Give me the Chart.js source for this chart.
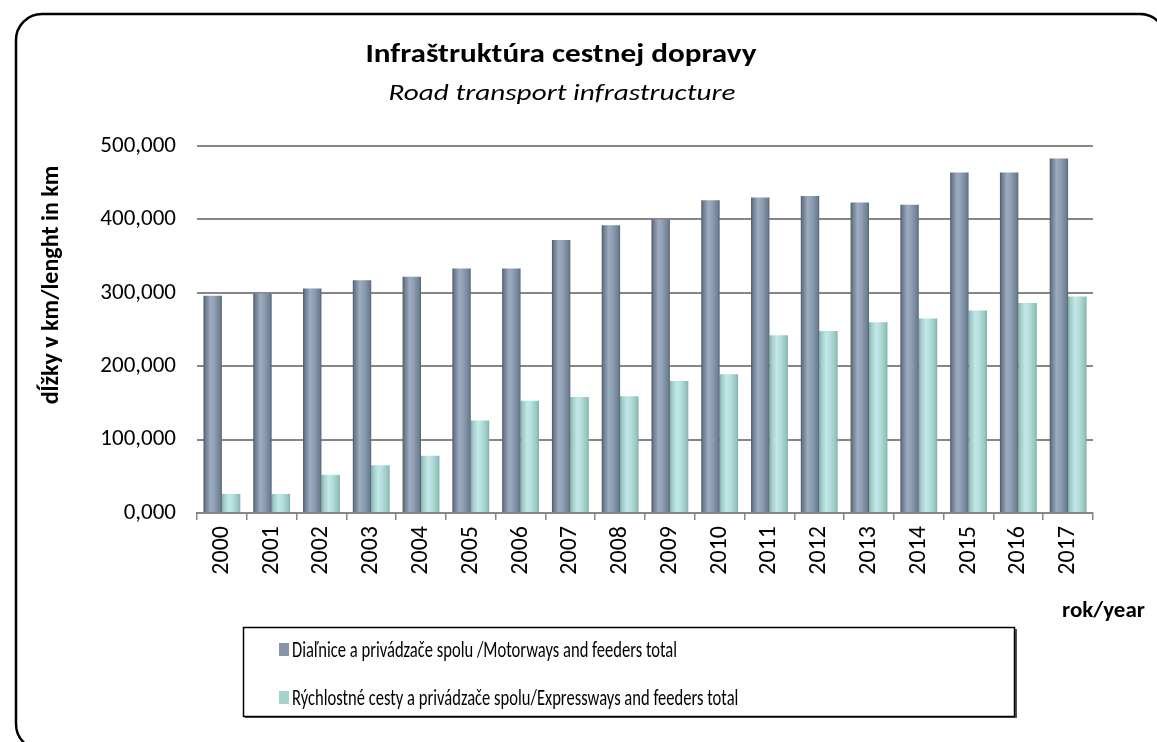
<!DOCTYPE html>
<html>
<head>
<meta charset="utf-8">
<script src="https://cdn.jsdelivr.net/npm/chart.js@4.4.1/dist/chart.umd.min.js"></script>
<style>
  html, body { margin: 0; padding: 0; background: #fff; }
  #wrap { width: 1157px; height: 742px; }
</style>
</head>
<body>
<div id="wrap"><canvas id="chart" width="1157" height="742"></canvas></div>
<script>
// Data
const years = ['2000', '2001', '2002', '2003', '2004', '2005', '2006', '2007', '2008',
               '2009', '2010', '2011', '2012', '2013', '2014', '2015', '2016', '2017'];
const motorways = [296, 299, 306, 317, 322, 333, 333, 372, 392, 400, 426, 430, 432, 423, 420, 464, 464, 483];
const expressways = [26, 26, 52, 65, 78, 126, 153, 158, 159, 180, 189, 242, 248, 260, 265, 276, 286, 295];
const seriesLabels = [
    'Diaľnice a privádzače spolu /Motorways and feeders total',
    'Rýchlostné cesty a privádzače spolu/Expressways and feeders total'
];
const yMax = 500;
const yStep = 100;

const FONT = 'Carlito, Calibri, Lato, sans-serif';
const legendColors = ['#8795a8', '#a6d3cf'];

// bar "cylinder" shading, from left edge to right edge
const barStops = [
    [[0, '#4e5968'], [0.1, '#6b798b'], [0.38, '#9dacc1'], [0.6, '#8e9eb3'], [0.9, '#6f7f94'], [1, '#566374']],
    [[0, '#7ea8a3'], [0.1, '#9ccac6'], [0.38, '#c2e8e7'], [0.6, '#b4dedb'], [0.9, '#94c4bf'], [1, '#7faba6']]
];

// Paint each bar with a horizontal gradient using its resolved position
const shadePlugin = {
    id: 'shade',
    beforeDatasetsDraw(chart) {
        const ctx = chart.ctx;
        chart.data.datasets.forEach((ds, di) => {
            chart.getDatasetMeta(di).data.forEach(el => {
                const left = el.x - el.width / 2;
                const g = ctx.createLinearGradient(left, 0, left + el.width, 0);
                barStops[di].forEach(s => g.addColorStop(s[0], s[1]));
                el.options = Object.assign({}, el.options, { backgroundColor: g });
            });
        });
    }
};

// text with a horizontal stretch factor (the source image is not square-pixeled)
function stretchText(ctx, text, x, y, sx, align) {
    ctx.save();
    ctx.translate(x, y);
    ctx.scale(sx, 1);
    ctx.textAlign = align;
    ctx.fillText(text, 0, 0);
    ctx.restore();
}

// Outer frame, titles, axis titles and boxed legend
const decorPlugin = {
    id: 'decor',
    afterDraw(chart) {
        const ctx = chart.ctx;
        ctx.save();

        ctx.strokeStyle = '#000';
        ctx.lineWidth = 2.5;
        ctx.beginPath();
        ctx.roundRect(16, 14, 1150, 736, 26);
        ctx.stroke();

        ctx.fillStyle = '#000';
        ctx.textBaseline = 'alphabetic';
        ctx.font = 'bold 26px ' + FONT;
        stretchText(ctx, 'Infraštruktúra cestnej dopravy', 561, 62, 1.2, 'center');
        ctx.font = 'italic 23px ' + FONT;
        stretchText(ctx, 'Road transport infrastructure', 562, 100, 1.27, 'center');

        ctx.font = 'bold 23px ' + FONT;
        ctx.textAlign = 'left';
        ctx.fillText('rok/year', 1062, 617);

        // y axis title, rotated
        ctx.save();
        ctx.translate(58, 285);
        ctx.rotate(-Math.PI / 2);
        ctx.font = 'bold 24px ' + FONT;
        ctx.textAlign = 'center';
        ctx.fillText('dĺžky v km/lenght in km', 0, 0);
        ctx.restore();

        // legend box
        ctx.fillStyle = '#555';
        ctx.fillRect(245, 716, 771, 2);
        ctx.fillRect(1015, 629, 2, 89);
        ctx.strokeStyle = '#000';
        ctx.lineWidth = 1.5;
        ctx.strokeRect(243.5, 627.5, 771, 89);

        ctx.font = '23px ' + FONT;
        const rows = [657, 705];
        chart.data.datasets.forEach((ds, i) => {
            ctx.fillStyle = legendColors[i];
            ctx.fillRect(279, rows[i] - 14, 10, 13);
            ctx.fillStyle = '#000';
            stretchText(ctx, ds.label, 292, rows[i], 0.72, 'left');
        });
        ctx.restore();
    }
};

new Chart(document.getElementById('chart'), {
    type: 'bar',
    data: {
        labels: years,
        datasets: [
            { label: seriesLabels[0], data: motorways, backgroundColor: legendColors[0] },
            { label: seriesLabels[1], data: expressways, backgroundColor: legendColors[1] }
        ]
    },
    options: {
        responsive: false,
        animation: false,
        categoryPercentage: 0.74,
        barPercentage: 1.0,
        layout: { padding: { left: 16, right: 64, top: 146, bottom: 154 } },
        plugins: {
            legend: { display: false },
            title: { display: false },
            tooltip: { enabled: false }
        },
        scales: {
            x: {
                afterFit(scale) { scale.height = 75; },
                grid: {
                    offset: true,
                    drawOnChartArea: false,
                    drawTicks: true,
                    tickLength: 7,
                    color: '#868686',
                    lineWidth: 1.5
                },
                border: { display: true, color: '#868686', width: 2 },
                ticks: {
                    minRotation: 90,
                    maxRotation: 90,
                    padding: 6,
                    color: '#000',
                    font: { family: FONT, size: 24 }
                }
            },
            y: {
                min: 0,
                max: yMax,
                afterFit(scale) { scale.width = 181; },
                grid: { color: '#868686', lineWidth: 2, drawTicks: false },
                border: { display: false },
                ticks: {
                    stepSize: yStep,
                    padding: 21,
                    color: '#000',
                    font: { family: FONT, size: 23 },
                    callback: v => v.toFixed(3).replace('.', ',')
                }
            }
        }
    },
    plugins: [shadePlugin, decorPlugin]
});
</script>
</body>
</html>
